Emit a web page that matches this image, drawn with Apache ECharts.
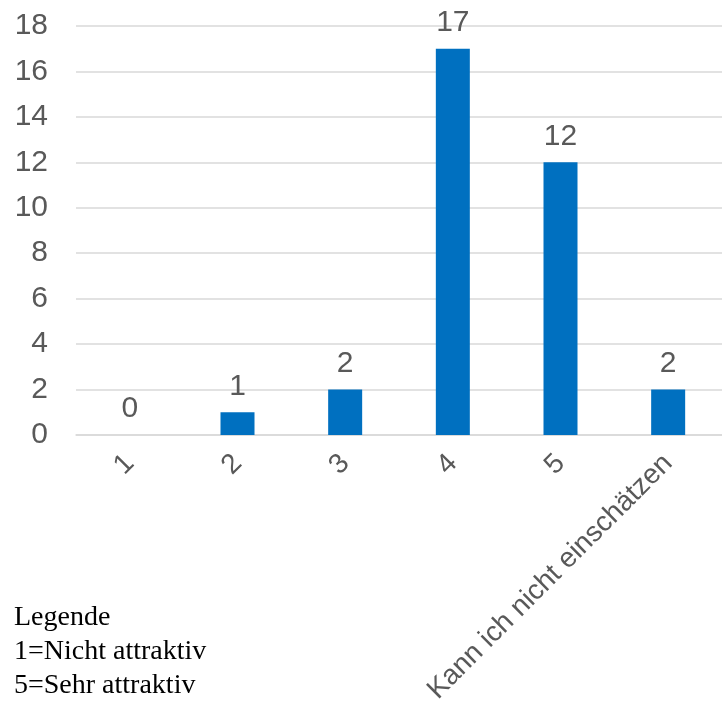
<!DOCTYPE html>
<html>
<head>
<meta charset="utf-8">
<script src="https://cdn.jsdelivr.net/npm/echarts@6/dist/echarts.min.js"></script>
<style>
  html, body { margin: 0; padding: 0; background: #ffffff; }
  #chart { width: 722px; height: 705px; }
</style>
</head>
<body>
<div id="chart"></div>
<script>
// Rating categories and number of answers
const categories = ['1', '2', '3', '4', '5', 'Kann ich nicht einschätzen'];
const counts = [0, 1, 2, 17, 12, 2];

// Y axis range
const yMin = 0;
const yMax = 18;
const yStep = 2;

// Key explaining the rating scale
const legendLines = ['Legende', '1=Nicht attraktiv', '5=Sehr attraktiv'];

const textColor = '#595959';
const gridColor = '#d9d9d9';
const barColor = '#0070c0';
const sansFont = '"Liberation Sans", Arial, sans-serif';
const serifFont = '"Liberation Serif", "Times New Roman", serif';

const chart = echarts.init(document.getElementById('chart'), null, { renderer: 'canvas' });

chart.setOption({
  backgroundColor: '#ffffff',
  animation: false,
  grid: {
    left: 76, right: 0, top: 26, bottom: 270,
    containLabel: false,
    outerBoundsMode: 'none'
  },
  xAxis: {
    type: 'category',
    data: categories,
    axisLine: { show: true, lineStyle: { color: gridColor, width: 1.5 } },
    axisTick: { show: false },
    axisLabel: {
      rotate: 45,
      interval: 0,
      margin: 24,
      color: textColor,
      fontSize: 28,
      fontFamily: sansFont
    }
  },
  yAxis: {
    type: 'value',
    min: yMin,
    max: yMax,
    interval: yStep,
    axisLine: { show: false },
    axisTick: { show: false },
    splitLine: { lineStyle: { color: gridColor, width: 1.5 } },
    axisLabel: {
      margin: 28,
      color: textColor,
      fontSize: 30,
      fontFamily: sansFont
    }
  },
  series: [{
    type: 'bar',
    data: counts,
    barWidth: 34,
    itemStyle: { color: barColor },
    label: {
      show: true,
      position: 'top',
      distance: 11,
      color: textColor,
      fontSize: 30,
      fontFamily: sansFont
    }
  }],
  graphic: legendLines.map((line, i) => ({
    type: 'text',
    left: 14,
    top: 604 + i * 34,
    style: {
      text: line,
      fill: '#000000',
      font: '28px ' + serifFont
    }
  }))
});
</script>
</body>
</html>
